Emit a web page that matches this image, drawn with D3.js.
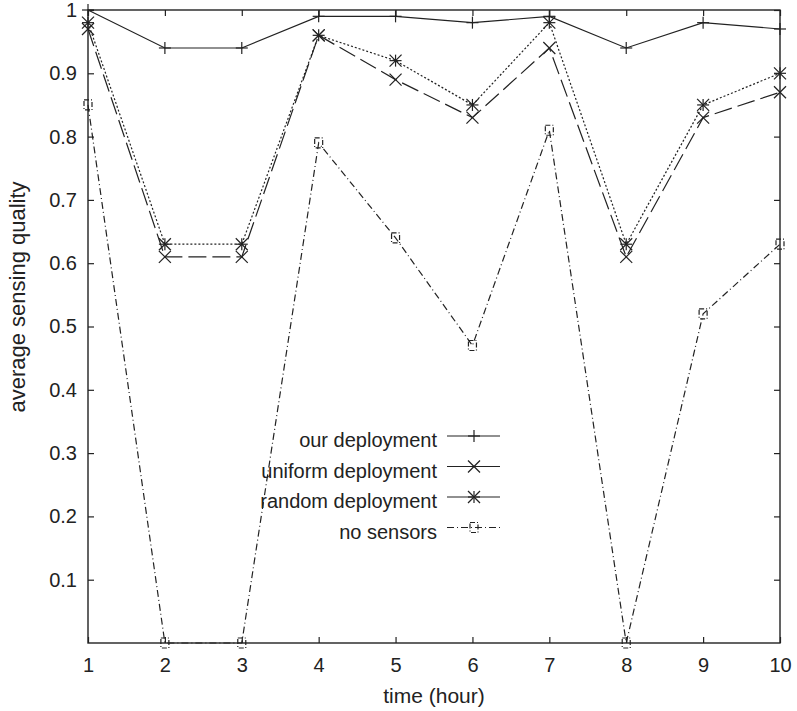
<!DOCTYPE html>
<html>
<head>
<meta charset="utf-8">
<script src="https://cdn.jsdelivr.net/npm/d3@7"></script>
<style>
  html, body { margin: 0; padding: 0; background: #fff; }
  svg { display: block; font-family: "Liberation Sans", Arial, sans-serif; }
</style>
</head>
<body>
<svg id="chart" width="797" height="711"></svg>
<script>
const hours = [1, 2, 3, 4, 5, 6, 7, 8, 9, 10];
const ourDeployment = [1.0, 0.94, 0.94, 0.99, 0.99, 0.98, 0.99, 0.94, 0.98, 0.97];
const uniformDeployment = [0.97, 0.61, 0.61, 0.96, 0.89, 0.83, 0.94, 0.61, 0.83, 0.87];
const randomDeployment = [0.98, 0.63, 0.63, 0.96, 0.92, 0.85, 0.98, 0.63, 0.85, 0.90];
const noSensors = [0.85, 0.0, 0.0, 0.79, 0.64, 0.47, 0.81, 0.0, 0.52, 0.63];
const yTicks = [0.1, 0.2, 0.3, 0.4, 0.5, 0.6, 0.7, 0.8, 0.9, 1];

const series = [
  { name: 'our deployment', values: ourDeployment, dash: null, legendDash: null, marker: 'plus' },
  { name: 'uniform deployment', values: uniformDeployment, dash: '18,6', legendDash: null, marker: 'cross' },
  { name: 'random deployment', values: randomDeployment, dash: '2,2', legendDash: null, marker: 'star' },
  { name: 'no sensors', values: noSensors, dash: '7,3,1,3', legendDash: '7,3,1,3', marker: 'square' }
];

(() => {
  const ink = '#222';
  const left = 88, right = 780, plotTop = 10, bottom = 643;

  const svg = d3.select('#chart');
  const x = d3.scaleLinear().domain([1, 10]).range([left, right]);
  const y = d3.scaleLinear().domain([0, 1]).range([bottom, plotTop]);

  // axes with inward ticks, mirrored on top/right
  const tickLen = 6;
  svg.append('g').attr('transform', `translate(0,${bottom})`)
    .call(d3.axisBottom(x).tickValues(hours).tickSizeInner(-tickLen).tickSizeOuter(0).tickPadding(15).tickFormat(d3.format('d')))
    .call(g => g.select('.domain').remove());
  svg.append('g').attr('transform', `translate(0,${plotTop})`)
    .call(d3.axisTop(x).tickValues(hours).tickSizeInner(-tickLen).tickSizeOuter(0).tickFormat(''))
    .call(g => g.select('.domain').remove());
  svg.append('g').attr('transform', `translate(${left},0)`)
    .call(d3.axisLeft(y).tickValues(yTicks).tickSizeInner(-tickLen).tickSizeOuter(0).tickPadding(11).tickFormat(d => d === 1 ? '1' : d3.format('.1f')(d)))
    .call(g => g.select('.domain').remove());
  svg.append('g').attr('transform', `translate(${right},0)`)
    .call(d3.axisRight(y).tickValues(yTicks).tickSizeInner(-tickLen).tickSizeOuter(0).tickFormat(''))
    .call(g => g.select('.domain').remove());

  svg.selectAll('.tick line').attr('stroke', ink).attr('stroke-width', 1.2);
  svg.selectAll('.tick text').attr('fill', ink).attr('font-size', 20).attr('font-family', '"Liberation Sans", Arial, sans-serif');

  svg.append('rect').attr('x', left).attr('y', plotTop).attr('width', right - left).attr('height', bottom - plotTop)
    .attr('fill', 'none').attr('stroke', ink).attr('stroke-width', 1.4);

  // axis titles
  svg.append('text').attr('x', (left + right) / 2).attr('y', 703).attr('text-anchor', 'middle')
    .attr('font-size', 21).attr('fill', ink).text('time (hour)');
  svg.append('text').attr('transform', 'translate(25,297) rotate(-90)').attr('text-anchor', 'middle')
    .attr('font-size', 22).attr('fill', ink).text('average sensing quality');

  function marker(g, type, cx, cy) {
    const s = 6;
    const line = (x1, y1, x2, y2) => g.append('line').attr('x1', cx + x1).attr('y1', cy + y1)
      .attr('x2', cx + x2).attr('y2', cy + y2).attr('stroke', ink).attr('stroke-width', 1.2);
    if (type === 'plus' || type === 'star') { line(-s, 0, s, 0); line(0, -s, 0, s); }
    if (type === 'cross' || type === 'star') { line(-s, -s, s, s); line(-s, s, s, -s); }
    if (type === 'square') {
      g.append('rect').attr('x', cx - 4).attr('y', cy - 5).attr('width', 8).attr('height', 10)
        .attr('fill', 'none').attr('stroke', ink).attr('stroke-width', 1.2).attr('stroke-dasharray', '5,2,1,2');
    }
  }

  const lineGen = d3.line().x((d, i) => x(hours[i])).y(d => y(d));
  series.forEach(s => {
    const g = svg.append('g');
    g.append('path').datum(s.values).attr('d', lineGen).attr('fill', 'none')
      .attr('stroke', ink).attr('stroke-width', 1.2).attr('stroke-dasharray', s.dash);
    s.values.forEach((v, i) => marker(g, s.marker, x(hours[i]), y(v)));
  });

  // legend
  const legendX = 437, legendY = 436, rowH = 30.5;
  series.forEach((s, i) => {
    const ly = legendY + i * rowH;
    const g = svg.append('g');
    g.append('text').attr('x', legendX).attr('y', ly + 11).attr('text-anchor', 'end')
      .attr('font-size', 20).attr('fill', ink).text(s.name);
    g.append('line').attr('x1', legendX + 10).attr('x2', legendX + 63).attr('y1', ly).attr('y2', ly)
      .attr('stroke', ink).attr('stroke-width', 1.2).attr('stroke-dasharray', s.legendDash);
    marker(g, s.marker, legendX + 37, ly);
  });
})();
</script>
</body>
</html>
